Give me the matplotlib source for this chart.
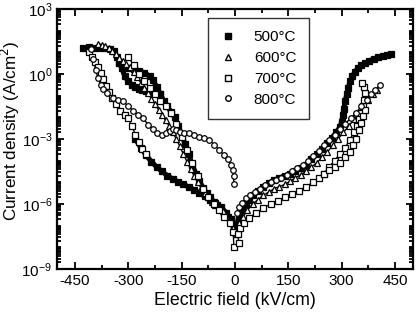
import numpy as np
import matplotlib
matplotlib.use('Agg')
import matplotlib.pyplot as plt
from matplotlib.lines import Line2D
from matplotlib.ticker import LogLocator, NullFormatter, FixedLocator

plt.rcParams['font.family'] = ['Liberation Sans', 'DejaVu Sans']
plt.rcParams['axes.unicode_minus'] = False

# values: electric field (kV/cm) and log10 of current density (A/cm^2)

# 500 C, filled squares
e500_a = [-428, -410, -390, -370, -350, -340, -332, -325, -315, -300, -285, -270, -255, -240, -230,
          -220, -210, -200, -190, -180, -170, -160, -150, -140, -130, -120, -110, -100, -90, -80,
          -70, -60, -50, -40, -30, -20, -10, -4]
lj500_a = [1.2, 1.22, 1.2, 1.18, 1.15, 1.05, 0.8, 0.55, 0.35, 0.28, 0.22, 0.15, 0.05, -0.1, -0.3,
           -0.6, -0.95, -1.25, -1.5, -1.75, -2.0, -2.4, -2.8, -3.25, -3.7, -4.2, -4.6, -4.95, -5.25, -5.5,
           -5.7, -5.9, -6.05, -6.2, -6.4, -6.6, -6.8, -7.1]
e500_b = [-325, -318, -310, -300, -290, -280, -270, -260, -250, -240, -230, -220, -212]
lj500_b = [0.5, 0.25, -0.1, -0.35, -0.5, -0.6, -0.68, -0.73, -0.77, -0.8, -0.82, -0.85, -0.95]
e500_c = [-280, -265, -250, -235, -220, -205, -190, -175, -160, -145, -130, -115, -100, -85,
          -70, -55, -40, -25, -12, -4]
lj500_c = [-3.0, -3.4, -3.75, -4.05, -4.3, -4.5, -4.7, -4.85, -4.98, -5.1, -5.22, -5.35, -5.5, -5.65,
           -5.8, -5.95, -6.15, -6.4, -6.7, -7.0]
e500_d = [3, 10, 20, 30, 40, 50, 65, 80, 95, 110, 125, 140, 155, 170, 185, 200, 215, 230, 245, 260,
          272, 285, 295, 300, 303, 306, 310, 314, 318, 324, 330, 338, 345, 355, 365, 378, 390, 403,
          415, 428, 440]
lj500_d = [-7.2, -6.6, -6.3, -6.0, -5.8, -5.6, -5.4, -5.2, -5.05, -4.9, -4.8, -4.7, -4.6, -4.5, -4.35,
           -4.2, -3.95, -3.7, -3.45, -3.2, -2.95, -2.7, -2.45, -2.2, -1.9, -1.6, -1.25, -0.95, -0.65,
           -0.35, -0.1, 0.1, 0.25, 0.4, 0.5, 0.6, 0.7, 0.76, 0.82, 0.87, 0.9]

# 600 C, open triangles
e600_a = [-386, -375, -365, -355, -345, -335, -325, -315, -305, -295, -285, -275, -265, -255, -245,
          -235, -225, -215, -205, -195, -185, -175, -165, -155, -145, -135, -125, -115, -105, -95,
          -85, -75, -65, -55, -45, -35, -25, -15, -6]
lj600_a = [1.4, 1.35, 1.3, 1.2, 1.05, 0.9, 0.75, 0.6, 0.45, 0.3, 0.1, -0.15, -0.4, -0.65, -0.9,
           -1.15, -1.4, -1.65, -1.9, -2.15, -2.4, -2.7, -3.0, -3.35, -3.7, -4.05, -4.4, -4.7, -5.0, -5.25,
           -5.5, -5.7, -5.9, -6.05, -6.2, -6.35, -6.55, -6.8, -7.1]
e600_b = [3, 12, 22, 35, 50, 65, 80, 95, 110, 125, 140, 155, 170, 185, 200, 215, 230, 245, 260, 275,
          290, 305, 320, 335, 350, 362, 375, 388, 400]
lj600_b = [-7.4, -6.9, -6.6, -6.3, -6.0, -5.8, -5.6, -5.45, -5.3, -5.2, -5.1, -4.95, -4.8, -4.65, -4.5,
           -4.3, -4.1, -3.85, -3.6, -3.3, -3.0, -2.7, -2.4, -2.1, -1.8, -1.5, -1.2, -0.95, -0.75]

# 700 C, open squares
e700_a = [-411, -402, -394, -386, -378, -370, -362, -354, -345, -335, -322, -310, -300, -290, -280,
          -270, -260, -250]
lj700_a = [1.0, 0.8, 0.55, 0.3, 0.05, -0.25, -0.55, -0.85, -1.1, -1.4, -1.7, -1.9, -2.05, -2.4, -2.8,
           -3.15, -3.45, -3.7]
e700_b = [-300, -285, -270, -255, -240, -225, -210, -195, -180, -165, -150, -135, -120, -105, -90,
          -75, -60, -45, -30, -15, -5, -3]
lj700_b = [0.8, 0.4, 0.0, -0.35, -0.65, -0.95, -1.25, -1.5, -1.8, -2.3, -2.9, -3.5, -4.1, -4.7, -5.3,
           -5.7, -6.0, -6.3, -6.6, -6.9, -7.3, -8.0]
e700_c = [11, 8, 15, 25, 40, 60, 80, 100, 120, 140, 160, 180, 200, 220, 235, 250, 265, 280, 295, 310,
          322, 335, 343, 350, 355, 360, 363, 365, 362, 358]
lj700_c = [-7.8, -7.4, -7.1, -6.9, -6.65, -6.4, -6.2, -6.0, -5.85, -5.7, -5.55, -5.4, -5.2, -5.0, -4.8,
           -4.6, -4.3, -4.0, -3.7, -3.4, -3.05, -2.7, -2.4, -2.1, -1.8, -1.5, -1.2, -0.9, -0.6, -0.4]
e700_d = [250, 265, 280, 295, 310, 322, 332, 340, 348, 355, 360, 365]
lj700_d = [-4.6, -4.45, -4.3, -4.1, -3.85, -3.6, -3.3, -3.0, -2.6, -2.25, -1.95, -1.65]

# 800 C, open circles
e800_a = [-405, -398, -392, -385, -378, -370, -360, -344, -330, -315, -300, -286, -272, -258, -244,
          -230, -218, -206, -195, -184, -175, -165, -155, -142, -128, -114, -100, -86, -72, -58,
          -45, -31, -20, -11, -5, -4, -3]
lj800_a = [1.15, 0.7, 0.2, -0.2, -0.5, -0.72, -0.9, -1.1, -1.2, -1.25, -1.5, -1.7, -1.9, -2.05, -2.35,
           -2.55, -2.75, -2.82, -2.75, -2.65, -2.55, -2.6, -2.68, -2.72, -2.75, -2.82, -2.9, -2.95, -3.05,
           -3.28, -3.5, -3.74, -3.95, -4.2, -4.45, -4.7, -5.1]
e800_b = [5, 12, 20, 30, 42, 55, 70, 85, 100, 115, 130, 145, 160, 175, 190, 205, 220, 235, 250, 265,
          280, 295, 310, 325, 340, 355, 370, 383, 395, 408]
lj800_b = [-6.4, -6.15, -5.95, -5.75, -5.6, -5.45, -5.3, -5.15, -5.0, -4.9, -4.8, -4.65, -4.5, -4.35,
           -4.2, -4.0, -3.8, -3.55, -3.3, -3.05, -2.8, -2.55, -2.3, -2.05, -1.8, -1.5, -1.2, -0.95, -0.75,
           -0.5]

temps = ['500°C', '600°C', '700°C', '800°C']
xticks = [-450, -300, -150, 0, 150, 300, 450]
yticks = [1e-9, 1e-6, 1e-3, 1e0, 1e3]


def draw(ax, e, lj, marker, fill, lw, ms=4.0):
    j = 10.0 ** np.array(lj)
    ax.plot(e, j, color='black', lw=lw, zorder=2)
    ax.plot(e, j, ls='none', marker=marker, ms=ms, mec='black',
            mfc=fill, mew=0.9, zorder=3)


fig = plt.figure(figsize=(4.17, 3.16), dpi=100)
ax = fig.add_axes([0.137, 0.149, 0.853, 0.823])

for e, lj in [(e500_a, lj500_a), (e500_b, lj500_b), (e500_c, lj500_c), (e500_d, lj500_d)]:
    draw(ax, e, lj, 's', 'black', 3.6, ms=4.2)
for e, lj in [(e600_a, lj600_a), (e600_b, lj600_b)]:
    draw(ax, e, lj, '^', 'white', 1.0)
for e, lj in [(e700_a, lj700_a), (e700_b, lj700_b), (e700_c, lj700_c), (e700_d, lj700_d)]:
    draw(ax, e, lj, 's', 'white', 1.0)
for e, lj in [(e800_a, lj800_a), (e800_b, lj800_b)]:
    draw(ax, e, lj, 'o', 'white', 1.0)

ax.set_yscale('log')
ax.set_xlim(-500, 500)
ax.set_ylim(1e-9, 1e3)
ax.set_xticks(xticks)
ax.set_xticks([-375, -225, -75, 75, 225, 375], minor=True)
ax.yaxis.set_major_locator(FixedLocator(yticks))
ax.yaxis.set_minor_locator(LogLocator(base=10, subs=np.arange(1, 10), numticks=50))
ax.yaxis.set_minor_formatter(NullFormatter())

ax.tick_params(which='both', direction='in', top=True, right=True, width=1.3, labelsize=11)
ax.tick_params(which='major', length=5)
ax.tick_params(which='minor', length=3)
for sp in ax.spines.values():
    sp.set_linewidth(1.6)

ax.set_xlabel('Electric field (kV/cm)', fontsize=12.8, labelpad=3)
ax.set_ylabel('Current density (A/cm$^2$)', fontsize=12.3)
ax.yaxis.set_label_coords(-0.1, 0.53)

handles = [Line2D([], [], ls='none', marker='s', ms=4, mfc='black', mec='black'),
           Line2D([], [], ls='none', marker='^', ms=4, mfc='white', mec='black'),
           Line2D([], [], ls='none', marker='s', ms=4, mfc='white', mec='black'),
           Line2D([], [], ls='none', marker='o', ms=4, mfc='white', mec='black')]
leg = ax.legend(handles, temps, loc='upper left', bbox_to_anchor=(0.424, 0.965),
                borderaxespad=0, fontsize=11, frameon=True, fancybox=False,
                edgecolor='black', handletextpad=1.2, labelspacing=0.45,
                borderpad=0.8, handlelength=1.0)
leg.get_frame().set_linewidth(1.0)

fig.savefig('out.png', dpi=100)
